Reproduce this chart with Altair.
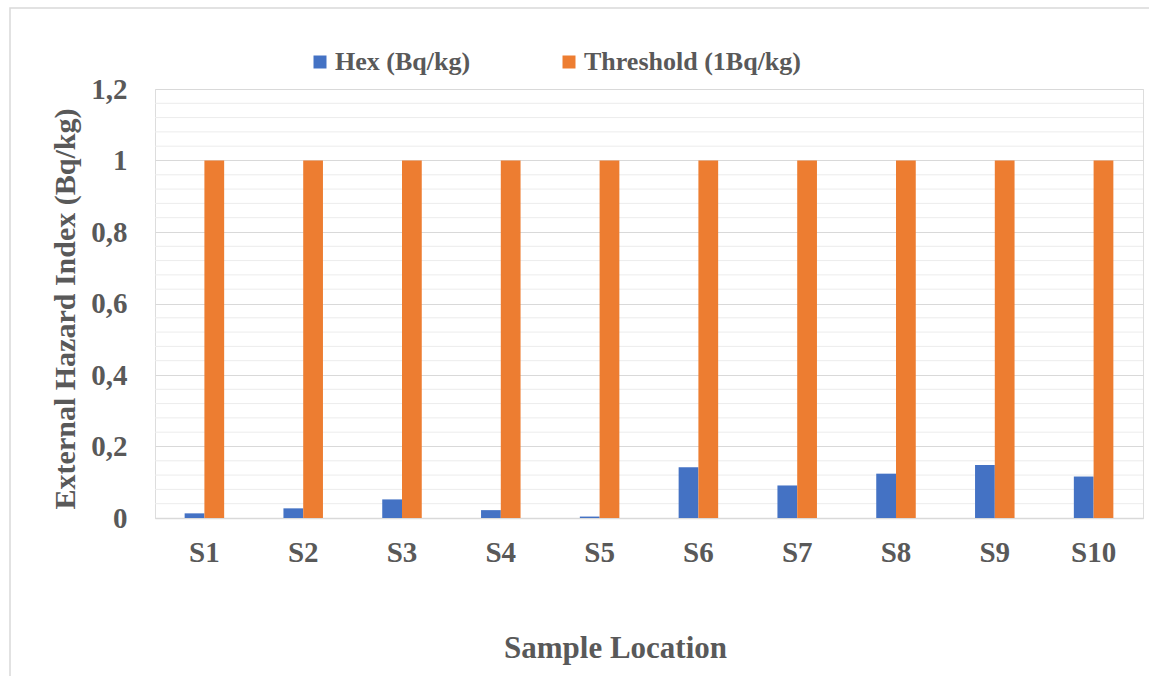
import altair as alt
import pandas as pd

samples = ["S1", "S2", "S3", "S4", "S5", "S6", "S7", "S8", "S9", "S10"]
hex_values = [0.013, 0.027, 0.052, 0.022, 0.004, 0.142, 0.091, 0.124, 0.148, 0.116]
threshold_values = [1, 1, 1, 1, 1, 1, 1, 1, 1, 1]
series_names = ["Hex (Bq/kg)", "Threshold (1Bq/kg)"]
series_colors = ["#4472C4", "#ED7D31"]
major_ticks = [0, 0.2, 0.4, 0.6, 0.8, 1.0, 1.2]
minor_ticks = [0.04, 0.08, 0.12, 0.16, 0.24, 0.28, 0.32, 0.36, 0.44, 0.48, 0.52, 0.56,
               0.64, 0.68, 0.72, 0.76, 0.84, 0.88, 0.92, 0.96, 1.04, 1.08, 1.12, 1.16]

rows = []
for s, h, t in zip(samples, hex_values, threshold_values):
    rows.append({"sample": s, "series": series_names[0], "value": h})
    rows.append({"sample": s, "series": series_names[1], "value": t})
df = pd.DataFrame(rows)
minor_df = pd.DataFrame({"v": minor_ticks})

FONT = "Liberation Serif"
GRAY = "#595959"
W, H = 988, 429

yscale = alt.Scale(domain=[0, 1.2], nice=False)
yaxis = alt.Axis(
    title="External Hazard Index (Bq/kg)",
    values=major_ticks,
    labelExpr="replace(format(datum.value, '.1~f'), '.', ',')",
    labelFont=FONT, labelFontSize=29, labelFontWeight="bold", labelColor=GRAY,
    labelPadding=28, ticks=False, domain=False,
    gridColor="#d9d9d9", gridWidth=1.2,
    titleFont=FONT, titleFontSize=30, titleFontWeight="bold", titleColor=GRAY,
    titleX=-90, titleY=H / 2 + 5, titleBaseline="middle", titleAlign="center",
)

border = alt.Chart(pd.DataFrame({"a": [0]})).mark_rect(
    fill=None, stroke="#d9d9d9", strokeWidth=1.5
).encode(
    x=alt.value(-145), x2=alt.value(1160), y=alt.value(-81), y2=alt.value(700)
)

minor = alt.Chart(minor_df).mark_rule(color="#ececec", strokeWidth=1).encode(
    y=alt.Y("v:Q", scale=yscale, axis=yaxis)
)

bars = alt.Chart(df).mark_bar().encode(
    x=alt.X(
        "sample:N",
        sort=samples,
        scale=alt.Scale(paddingInner=0.6, paddingOuter=0.3),
        axis=alt.Axis(
            title="Sample Location",
            labelAngle=0,
            labelFont=FONT, labelFontSize=29, labelFontWeight="bold", labelColor=GRAY,
            labelPadding=20, ticks=False, domainColor="#d9d9d9", domainWidth=1.5,
            titleFont=FONT, titleFontSize=31, titleFontWeight="bold", titleColor=GRAY,
            titleX=460, titleAlign="center",
            titleY=130, titleBaseline="middle",
        ),
    ),
    xOffset=alt.XOffset("series:N", sort=series_names),
    y=alt.Y("value:Q", scale=yscale, axis=yaxis),
    color=alt.Color(
        "series:N",
        sort=series_names,
        scale=alt.Scale(domain=series_names, range=series_colors),
        legend=alt.Legend(
            title=None, orient="none", direction="horizontal",
            legendX=152, legendY=-40,
            symbolType="square", symbolSize=169, symbolStrokeWidth=0,
            labelFont=FONT, labelFontSize=26, labelFontWeight="bold", labelColor=GRAY,
            labelLimit=0, columnPadding=85, labelOffset=2,
        ),
    ),
)

chart = alt.layer(border, minor, bars).properties(
    width=W, height=H,
    padding={"left": 155, "top": 89, "right": 6, "bottom": 158},
    autosize=alt.AutoSizeParams(type="none"),
).configure_view(strokeWidth=0).configure(background="white")

chart.save("out.html", embed_options={"renderer": "svg", "actions": False})
